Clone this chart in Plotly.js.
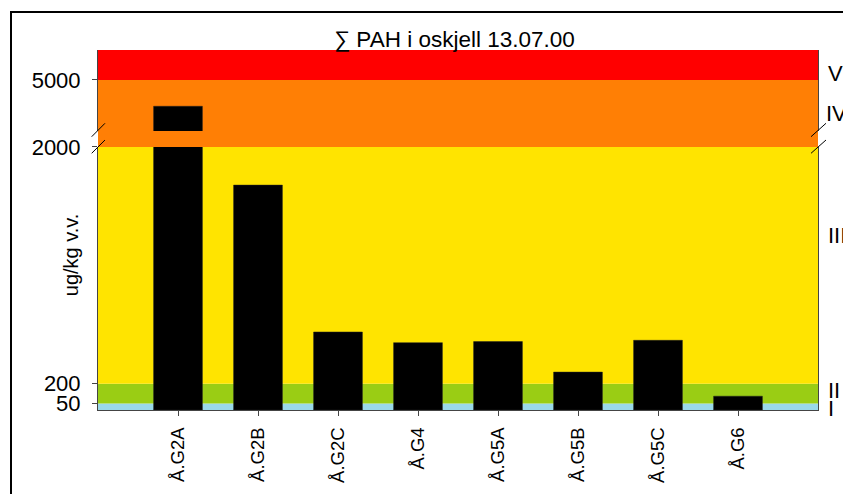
<!DOCTYPE html>
<html><head><meta charset="utf-8">
<script src="https://cdn.plot.ly/plotly-3.0.1.min.js"></script>
<style>
html,body{margin:0;padding:0;background:#fff;}
#wrap{position:relative;width:843px;height:494px;overflow:hidden;}
#chart{width:843px;height:494px;}
#frame{position:absolute;left:10px;top:11px;width:900px;height:600px;border:2px solid #000;pointer-events:none;}
</style></head><body>
<div id="wrap"><div id="chart"></div><div id="frame"></div></div>
<script>
// ---- data ----
const stations = ['Å.G2A', 'Å.G2B', 'Å.G2C', 'Å.G4', 'Å.G5A', 'Å.G5B', 'Å.G5C', 'Å.G6'];
const pahValues = [4800, 1710, 593, 512, 520, 288, 530, 105];
const classLimits = [50, 200, 2000, 5000];
const classLabels = ['I', 'II', 'III', 'IV', 'V'];
const yTickVals = [50, 200, 2000, 5000];
const chartTitle = '∑ PAH i oskjell 13.07.00';
const yTitle = 'ug/kg v.v.';

// ---- styling / layout ----
const classColors = ['#9ad9ea', '#9acd14', '#ffe400', '#ff7f05', '#ff0000'];
const lowerRange = [0, 2000];
const upperRange = [4612, 5228];
const lowerDomain = [0, 0.7306];
const upperDomain = [0.775, 1];
const font = 'Arial, Liberation Sans, sans-serif';

const bandEdges = [0].concat(classLimits).concat([Infinity]);
const shapes = [];
function clampBand(lo, hi, rng) {
  const a = Math.max(lo, rng[0]), b = Math.min(hi, rng[1]);
  return a < b ? [a, b] : null;
}
for (let i = 0; i < classLabels.length; i++) {
  const lo = bandEdges[i], hi = bandEdges[i + 1];
  [['y', lowerRange], ['y2', upperRange]].forEach(([ref, rng]) => {
    const c = clampBand(lo, hi, rng);
    if (c) shapes.push({type: 'rect', xref: 'paper', yref: ref, x0: 0, x1: 1, y0: c[0], y1: c[1],
      fillcolor: classColors[i], line: {width: 0}, layer: 'below'});
  });
}
// gap between the two parts of the broken axis belongs to class IV
shapes.push({type: 'rect', xref: 'paper', yref: 'paper', x0: 0, x1: 1, y0: lowerDomain[1], y1: upperDomain[0],
  fillcolor: classColors[3], line: {width: 0}, layer: 'below'});
// break marks
[[-0.00875, 0.00972], [0.9903, 1.0111]].forEach(([xa, xb]) => {
  shapes.push({type: 'line', xref: 'paper', yref: 'paper', x0: xa, x1: xb, y0: 0.7592, y1: 0.7964, line: {color: '#000', width: 1}});
  shapes.push({type: 'line', xref: 'paper', yref: 'paper', x0: xa, x1: xb, y0: 0.7131, y1: 0.75, line: {color: '#000', width: 1}});
});

const labelY = [0.0042, 0.0542, 0.4854, 0.8248, 0.936];
const annotations = classLabels.map((t, i) => ({
  text: t, xref: 'paper', yref: 'paper', x: i === 3 ? 1.0083 : 1.0111, y: labelY[i],
  xanchor: 'left', yanchor: 'middle', showarrow: false, font: {family: font, size: 22, color: '#000'}
}));
annotations.push({text: yTitle, xref: 'paper', yref: 'paper', x: -0.0375, y: 0.43, textangle: -90,
  xanchor: 'center', yanchor: 'middle', showarrow: false, font: {family: font, size: 20, color: '#000'}});

const barStyle = {color: '#000', line: {color: '#222', width: 0.5}};
const traces = [
  {type: 'bar', x: stations, y: pahValues, xaxis: 'x', yaxis: 'y', marker: barStyle, hoverinfo: 'x+y'},
  {type: 'bar', x: stations, y: pahValues, xaxis: 'x', yaxis: 'y2', marker: barStyle, hoverinfo: 'x+y'}
];

const yCommon = {
  showline: true, linecolor: '#444', linewidth: 1, mirror: true,
  ticks: 'outside', ticklen: 5, tickcolor: '#444', showgrid: false, zeroline: false,
  tickfont: {family: font, size: 22, color: '#000'}, tickmode: 'array', ticklabelstandoff: 7, fixedrange: true
};

const layout = {
  width: 843, height: 494,
  margin: {l: 98, r: 25, t: 50, b: 84, pad: 0},
  paper_bgcolor: '#fff', plot_bgcolor: '#fff',
  showlegend: false, bargap: 0.39,
  title: {text: chartTitle, xref: 'container', yref: 'container', x: 0.539, y: 0.921,
    xanchor: 'center', yanchor: 'middle', font: {family: font, size: 22.5, color: '#000'}},
  xaxis: {domain: [0, 1], anchor: 'y', type: 'category', range: [-1, stations.length],
    showline: true, linecolor: '#444', linewidth: 1, mirror: false,
    ticks: 'outside', ticklen: 5, tickcolor: '#444', showgrid: false, tickangle: -90,
    tickfont: {family: font, size: 18.5, color: '#000'}, ticklabelstandoff: 4, fixedrange: true},
  yaxis: Object.assign({}, yCommon, {domain: lowerDomain, range: lowerRange, anchor: 'x',
    tickvals: yTickVals.filter(v => v >= lowerRange[0] && v <= lowerRange[1])}),
  yaxis2: Object.assign({}, yCommon, {domain: upperDomain, range: upperRange, anchor: 'x',
    tickvals: yTickVals.filter(v => v >= upperRange[0] && v <= upperRange[1])}),
  shapes: shapes,
  annotations: annotations
};

Plotly.newPlot('chart', traces, layout, {displayModeBar: false, staticPlot: true});
</script>
</body></html>
